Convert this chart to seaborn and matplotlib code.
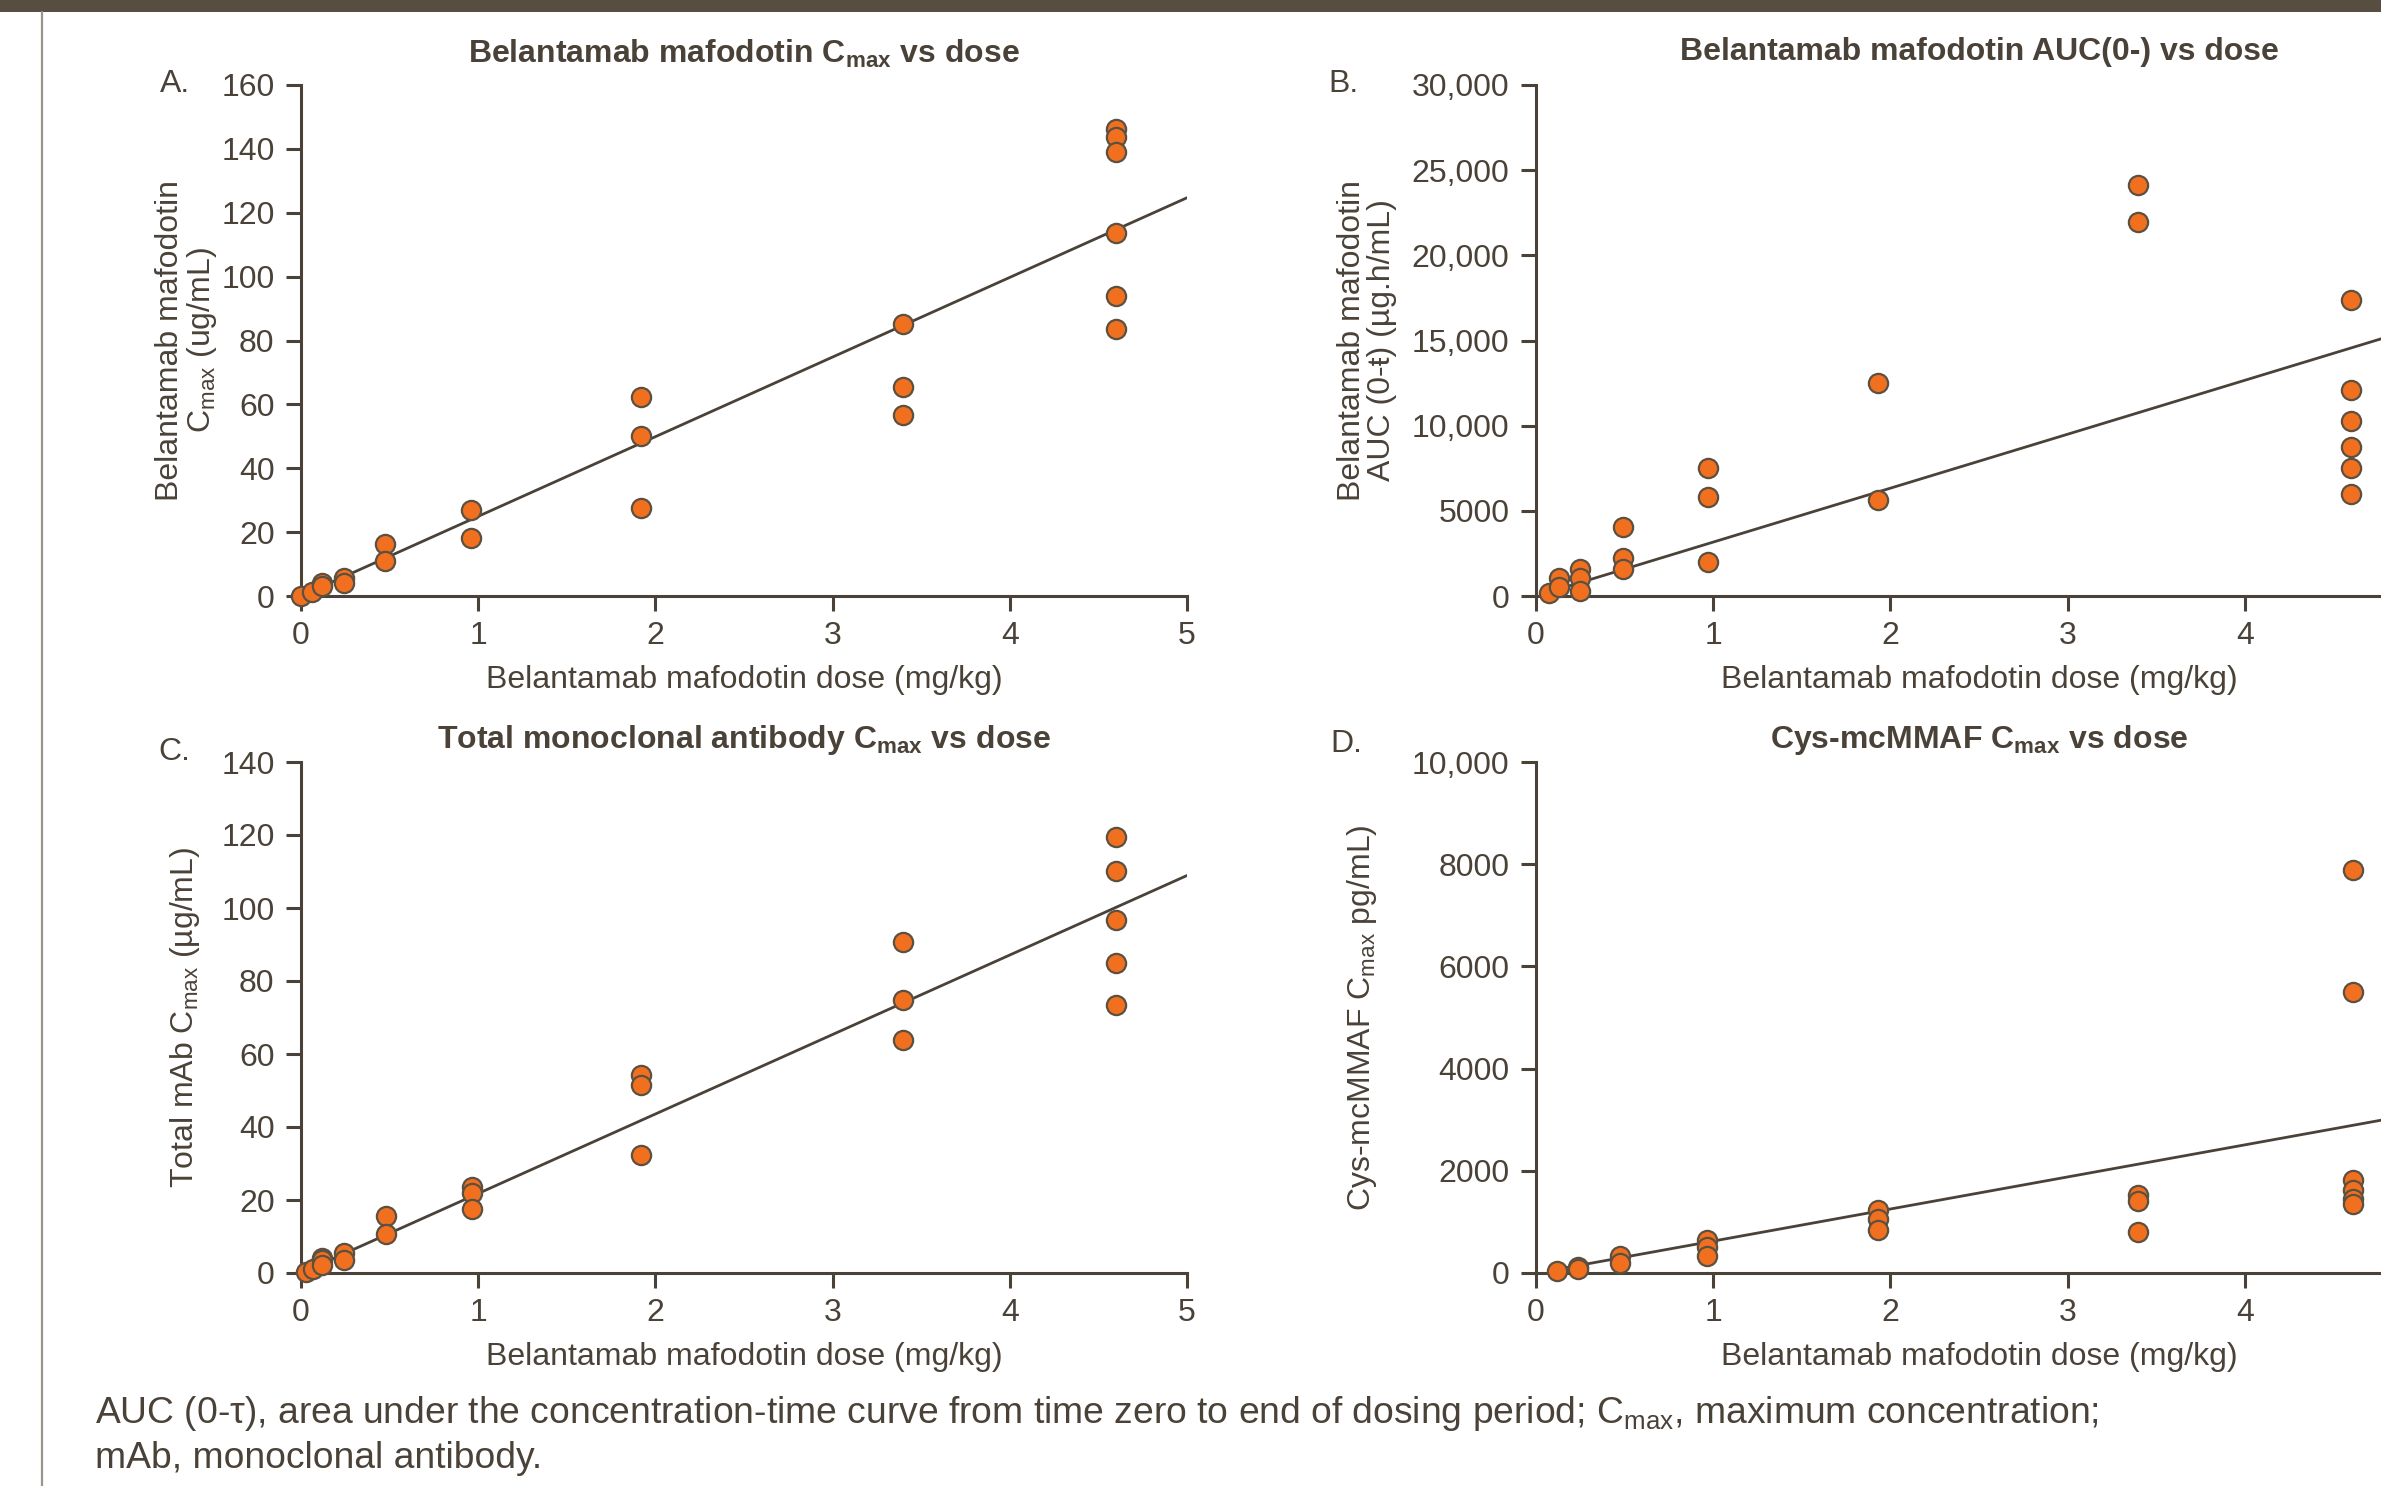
import numpy as np
import pandas as pd
import seaborn as sns
import matplotlib.pyplot as plt
from matplotlib.patches import Rectangle
from matplotlib.lines import Line2D
from matplotlib.ticker import FuncFormatter

# ---- data ----
# A: belantamab mafodotin Cmax (ug/mL)
dose_a = [0.0, 0.064, 0.117, 0.117, 0.24, 0.24, 0.475, 0.475, 0.96, 0.96,
          1.92, 1.92, 1.92, 3.4, 3.4, 3.4, 4.6, 4.6, 4.6, 4.6, 4.6, 4.6]
cmax_a = [0.0, 1.3, 4.2, 3.0, 5.5, 4.0, 16.2, 11.0, 26.8, 18.1,
          62.3, 50.0, 27.5, 85.3, 65.4, 56.7, 146.3, 143.6, 139.0, 113.6, 93.8, 83.6]

# B: belantamab mafodotin AUC (ug.h/mL)
dose_b = [0.071, 0.128, 0.128, 0.25, 0.25, 0.25, 0.49, 0.49, 0.49, 0.97, 0.97, 0.97,
          1.93, 1.93, 3.4, 3.4, 4.6, 4.6, 4.6, 4.6, 4.6, 4.6]
auc_b = [190, 1050, 550, 1580, 1040, 300, 4050, 2220, 1570, 7500, 5800, 2010,
         12490, 5620, 24120, 21950, 17380, 12070, 10270, 8750, 7500, 6010]

# C: total mAb Cmax (ug/mL)
dose_c = [0.03, 0.07, 0.117, 0.117, 0.117, 0.24, 0.24, 0.48, 0.48, 0.964, 0.964, 0.964,
          1.92, 1.92, 1.92, 3.4, 3.4, 3.4, 4.6, 4.6, 4.6, 4.6, 4.6]
cmax_c = [0.3, 1.2, 4.2, 3.5, 2.1, 5.5, 3.5, 15.5, 10.6, 23.6, 21.8, 17.6,
          54.2, 51.4, 32.4, 90.8, 74.9, 63.9, 119.4, 110.2, 96.8, 85.0, 73.5]

# D: cys-mcMMAF Cmax (pg/mL)
dose_d = [0.117, 0.235, 0.235, 0.476, 0.476, 0.966, 0.966, 0.966,
          1.93, 1.93, 1.93, 3.4, 3.4, 3.4, 4.61, 4.61, 4.61, 4.61, 4.61, 4.61]
cmax_d = [40, 117, 70, 327, 196, 654, 509, 327,
          1240, 1065, 836, 1518, 1400, 793, 7880, 5490, 1815, 1620, 1456, 1360]

# fitted lines (end points)
fit_x_a, fit_y_a = [0.0, 5.0], [0.0, 124.7]
fit_x_b, fit_y_b = [0.07, 5.0], [220, 15830]
fit_x_c, fit_y_c = [0.0, 5.0], [0.0, 108.9]
fit_x_d, fit_y_d = [0.1, 5.0], [60, 3135]

TEXT = '#4a4238'
DOT = '#f07020'
W, H = 2381, 1486


def fmt_thousands(v, pos):
    if v >= 10000:
        return f'{v:,.0f}'
    return f'{v:.0f}'


def panel(fig, rect, dose, vals, fit_x, fit_y, ylim, yticks, xticks, title, title_pad, ylabel, ylab_x):
    ax = fig.add_axes(rect)
    df = pd.DataFrame({'dose': dose, 'value': vals})
    sns.lineplot(x=fit_x, y=fit_y, color=TEXT, lw=1.0, ax=ax, zorder=2)
    sns.scatterplot(x='dose', y='value', data=df, color=DOT, edgecolor='#5c5040',
                    linewidth=0.8, s=48, ax=ax, zorder=3, clip_on=False)
    ax.set_xlim(0, 5)
    ax.set_ylim(*ylim)
    ax.set_xticks(xticks)
    ax.set_yticks(yticks)
    ax.yaxis.set_major_formatter(FuncFormatter(fmt_thousands))
    sns.despine(ax=ax)
    for s in ['left', 'bottom']:
        ax.spines[s].set_color(TEXT)
        ax.spines[s].set_linewidth(1.1)
    ax.tick_params(colors=TEXT, length=5.5, width=1.1, labelsize=11.5)
    ax.tick_params(axis='y', pad=4)
    ax.tick_params(axis='x', pad=3.5)
    ax.set_xlabel('Belantamab mafodotin dose (mg/kg)', fontsize=11.5, color=TEXT, labelpad=5)
    ax.set_ylabel(ylabel, fontsize=11.5, color=TEXT, linespacing=1.0)
    ax.yaxis.set_label_coords(ylab_x, 0.5)
    ax.set_title(title, fontsize=11.5, fontweight='bold', color=TEXT, pad=title_pad)
    return ax


def main():
    sns.set_theme(style='ticks')
    plt.rcParams['font.family'] = ['Liberation Sans', 'DejaVu Sans']
    plt.rcParams['mathtext.fontset'] = 'custom'
    plt.rcParams['mathtext.rm'] = 'Liberation Sans'
    plt.rcParams['mathtext.it'] = 'Liberation Sans:italic'
    plt.rcParams['mathtext.bf'] = 'Liberation Sans:bold'

    fig = plt.figure(figsize=(W / 200, H / 200), dpi=200)

    aw, ah = 886 / W, 511 / H
    xl, xr = 301 / W, 1536 / W
    yt, yb = 1 - 596 / H, 1 - 1273 / H
    full_ticks = [0, 1, 2, 3, 4, 5]
    cut_ticks = [0, 1, 2, 3, 4]

    panel(fig, [xl, yt, aw, ah], dose_a, cmax_a, fit_x_a, fit_y_a, (0, 160), range(0, 161, 20), full_ticks,
          r'Belantamab mafodotin C$_{\mathbf{max}}$ vs dose', 8,
          'Belantamab mafodotin\nC$_{\\mathrm{max}}$ (ug/mL)', -0.092)
    panel(fig, [xr, yt, aw, ah], dose_b, auc_b, fit_x_b, fit_y_b, (0, 30000), range(0, 30001, 5000), cut_ticks,
          'Belantamab mafodotin AUC(0-) vs dose', 9,
          'Belantamab mafodotin\nAUC (0-ŧ) (µg.h/mL)', -0.157)
    panel(fig, [xl, yb, aw, ah], dose_c, cmax_c, fit_x_c, fit_y_c, (0, 140), range(0, 141, 20), full_ticks,
          r'Total monoclonal antibody C$_{\mathbf{max}}$ vs dose', 5,
          'Total mAb C$_{\\mathrm{max}}$ (µg/mL)', -0.112)
    panel(fig, [xr, yb, aw, ah], dose_d, cmax_d, fit_x_d, fit_y_d, (0, 10000), range(0, 10001, 2000), cut_ticks,
          r'Cys-mcMMAF C$_{\mathbf{max}}$ vs dose', 5,
          'Cys-mcMMAF C$_{\\mathrm{max}}$ pg/mL)', -0.177)

    # panel letters
    for lab, x, y in [('A.', 160, 84), ('B.', 1328, 84), ('C.', 158, 752), ('D.', 1330, 744)]:
        fig.text(x / W, 1 - y / H, lab, fontsize=11.5, color=TEXT, va='center', ha='left')

    # footnote
    fig.text(95 / W, 1 - 1394 / H,
             'AUC (0-τ), area under the concentration-time curve from time zero to end of dosing period; '
             'C$_{\\mathrm{max}}$, maximum concentration;\nmAb, monoclonal antibody.',
             fontsize=13.4, color=TEXT, va='top', ha='left', linespacing=1.3)

    # page frame bits
    fig.add_artist(Rectangle((0, 1 - 12 / H), 1, 12 / H, transform=fig.transFigure,
                             color='#574d41', lw=0))
    fig.add_artist(Line2D([42 / W, 42 / W], [0, 1 - 12 / H], transform=fig.transFigure,
                          color='#9a948c', lw=0.8))

    fig.savefig('out.png', dpi=200)


if __name__ == '__main__':
    main()
